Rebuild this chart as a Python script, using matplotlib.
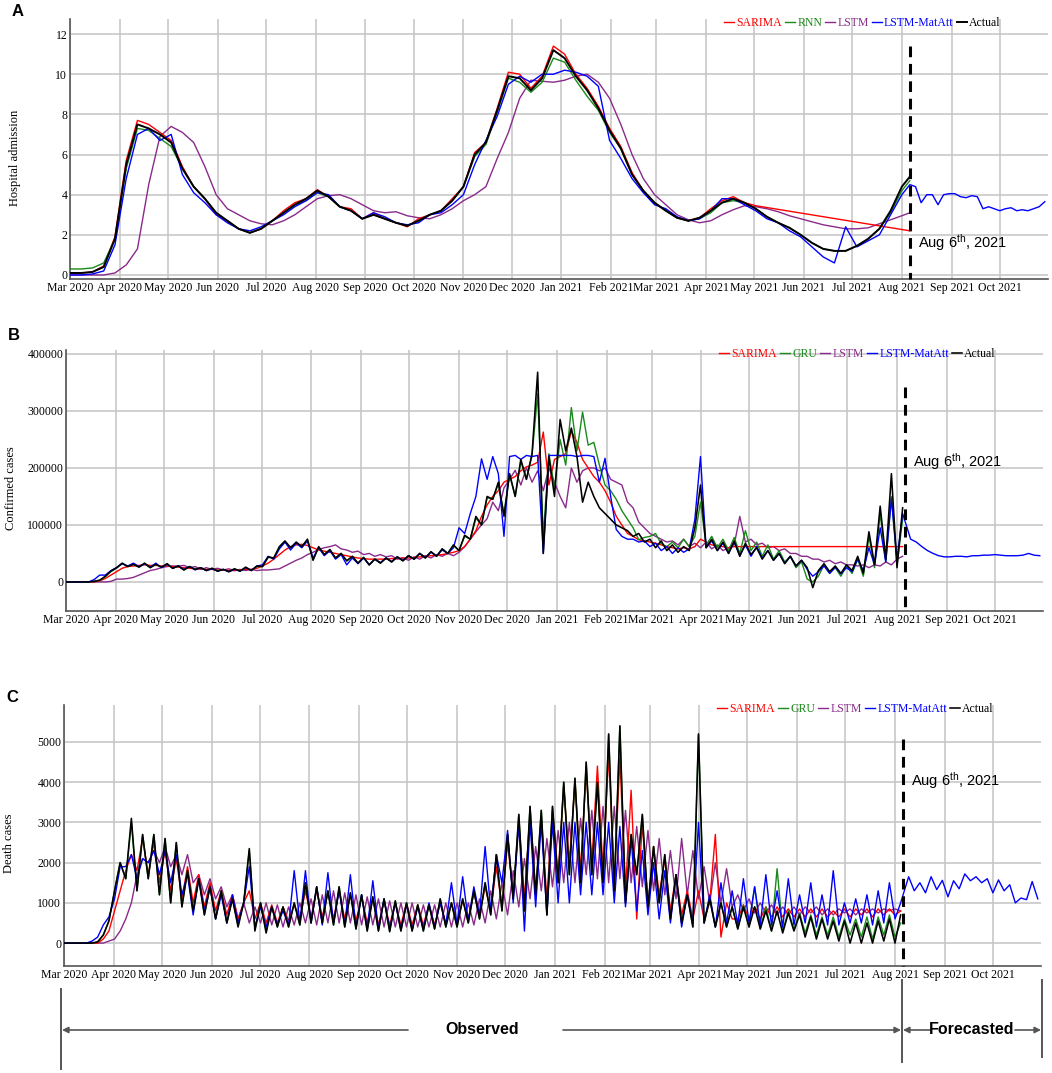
import numpy as np
import pandas as pd
import matplotlib
matplotlib.use('Agg')
import matplotlib.pyplot as plt
import matplotlib.dates as mdates
from matplotlib.lines import Line2D
from matplotlib.patches import FancyArrowPatch

W, H = 1052, 1073
plt.rcParams['font.family'] = ['Liberation Serif', 'DejaVu Serif']
plt.rcParams['mathtext.fontset'] = 'custom'
plt.rcParams['mathtext.rm'] = 'Liberation Sans'
plt.rcParams['mathtext.it'] = 'Liberation Sans:italic'
plt.rcParams['mathtext.bf'] = 'Liberation Sans:bold'

# ---------------- dates ----------------
A_dates = list(pd.date_range('2020-03-01', '2021-08-01', freq='7D')) + [pd.Timestamp('2021-08-06')]
HW_dates = list(pd.date_range('2020-03-01', periods=150, freq='84h'))
F_dates = list(pd.date_range('2021-08-06', periods=25, freq='84h')[1:])
CUT_DATE = pd.Timestamp('2021-08-06')

# ---------------- Panel A: hospital admission (weekly) ----------------
A_actual = [0.1, 0.1, 0.15, 0.4, 1.8, 5.5, 7.5, 7.3, 7.0, 6.6,
            5.3, 4.4, 3.8, 3.1, 2.7, 2.3, 2.1, 2.3, 2.7, 3.1,
            3.5, 3.8, 4.2, 3.9, 3.4, 3.2, 2.8, 3.0, 2.8, 2.6,
            2.45, 2.7, 3.0, 3.2, 3.7, 4.4, 6.0, 6.6, 8.2, 9.9,
            9.8, 9.2, 9.8, 11.2, 10.8, 9.9, 9.2, 8.3, 7.2, 6.3,
            5.0, 4.2, 3.6, 3.2, 2.85, 2.7, 2.85, 3.2, 3.6, 3.8,
            3.6, 3.3, 2.9, 2.6, 2.35, 2.0, 1.6, 1.3, 1.2, 1.2,
            1.45, 1.8, 2.3, 3.2, 4.4, 4.9]
A_sarima = [0.1, 0.1, 0.15, 0.45, 1.9, 5.7, 7.7, 7.5, 7.1, 6.7,
            5.4, 4.4, 3.8, 3.0, 2.7, 2.3, 2.1, 2.3, 2.7, 3.2,
            3.6, 3.8, 4.25, 3.9, 3.4, 3.3, 2.8, 3.1, 2.8, 2.6,
            2.4, 2.8, 3.0, 3.2, 3.8, 4.4, 6.1, 6.6, 8.3, 10.1,
            10.0, 9.3, 9.9, 11.4, 11.0, 10.0, 9.3, 8.4, 7.3, 6.4,
            5.1, 4.2, 3.6, 3.2, 2.85, 2.7, 2.85, 3.3, 3.7, 3.9,
            3.6, 3.45,
            2.2]
A_rnn = [0.3, 0.3, 0.35, 0.6, 1.8, 5.3, 7.3, 7.2, 6.8, 6.4,
         5.3, 4.4, 3.8, 3.1, 2.7, 2.3, 2.1, 2.3, 2.7, 3.1,
         3.5, 3.7, 4.1, 3.9, 3.4, 3.2, 2.8, 3.0, 2.8, 2.6,
         2.45, 2.7, 3.0, 3.2, 3.7, 4.4, 5.9, 6.5, 8.1, 9.8,
         9.6, 9.1, 9.6, 10.8, 10.6, 9.7, 8.9, 8.2, 7.1, 6.3,
         5.0, 4.2, 3.6, 3.2, 2.85, 2.7, 2.8, 3.1, 3.6, 3.7,
         3.6, 3.3, 2.9, 2.6, 2.35, 2.0, 1.6, 1.3, 1.2, 1.2,
         1.45, 1.8, 2.3, 3.1, 4.2, 4.7]
A_lstm = [0.0, 0.0, 0.0, 0.0, 0.1, 0.5, 1.3, 4.5, 6.9, 7.4,
          7.1, 6.6, 5.4, 4.0, 3.3, 3.0, 2.7, 2.55, 2.5, 2.7,
          3.0, 3.4, 3.8, 3.95, 4.0, 3.8, 3.5, 3.2, 3.1, 3.15,
          2.95, 2.85, 2.8, 3.0, 3.3, 3.7, 4.0, 4.4, 5.8, 7.1,
          8.8, 9.7, 9.65, 9.6, 9.7, 9.9, 10.0, 9.6, 8.8, 7.5,
          6.0, 4.8, 4.0, 3.5, 3.0, 2.75, 2.6, 2.7, 3.0, 3.25,
          3.45, 3.4, 3.3, 3.15, 2.95, 2.8, 2.65, 2.5, 2.4, 2.3,
          2.3, 2.35, 2.55, 2.75, 2.95, 3.1]
A_matatt = [0.0, 0.0, 0.05, 0.2, 1.5, 4.8, 7.0, 7.3, 6.7, 7.0,
            5.0, 4.1, 3.6, 3.0, 2.6, 2.3, 2.2, 2.4, 2.7, 3.0,
            3.4, 3.7, 4.1, 4.0, 3.4, 3.2, 2.8, 3.1, 2.9, 2.6,
            2.5, 2.6, 3.0, 3.1, 3.5, 4.0, 5.5, 6.7, 7.9, 9.5,
            9.9, 9.6, 10.0, 10.0, 10.2, 10.1, 9.9, 9.4, 6.7, 5.8,
            4.8, 4.1, 3.5, 3.3, 2.9, 2.7, 2.8, 3.2, 3.8, 3.8,
            3.5, 3.2, 2.8, 2.6, 2.2, 1.9, 1.4, 0.9, 0.6, 2.4,
            1.4, 1.7, 2.0, 3.0, 4.0, 4.5]
A_matatt_fc = [4.4, 3.6, 4.0, 4.0, 3.5, 4.0, 4.05, 4.05, 3.9, 3.85,
               3.95, 3.9, 3.3, 3.4, 3.3, 3.2, 3.3, 3.35, 3.2, 3.25,
               3.2, 3.3, 3.4, 3.65]

# ---------------- Panel B: confirmed cases (thousands, half-weekly) ----------------
B_actual_k = [0, 0, 0, 0, 0, 1, 3, 10, 19, 25,
              33, 27, 31, 26, 33, 25, 31, 26, 32, 24,
              28, 21, 27, 22, 25, 20, 24, 19, 22, 18,
              23, 19, 26, 20, 28, 27, 44, 42, 62, 72,
              60, 70, 62, 75, 38, 62, 48, 57, 42, 50,
              37, 45, 33, 43, 30, 40, 33, 42, 35, 44,
              37, 46, 40, 50, 42, 53, 45, 58, 50, 65,
              55, 82, 75, 115, 100, 150, 145, 175, 115, 190,
              150, 215, 180, 225, 368, 50, 220, 150, 285, 230,
              270, 220, 140, 175, 150, 130, 120, 110, 100, 95,
              90, 80, 85, 70, 75, 60, 72, 55, 65, 52,
              62, 55, 95, 170, 60, 75, 55, 70, 50, 72,
              45, 68, 48, 60, 40, 55, 38, 50, 32, 45,
              28, 38, 25, -10, 20, 32, 18, 28, 15, 30,
              20, 45, 15, 88, 30, 133, 40, 190, 25, 130]
B_sarima_k = [0, 0, 0, 0, 0, 0, 2, 6, 12, 18,
              24, 27, 28, 29, 30, 29, 29, 28, 28, 27,
              26, 25, 24, 23, 23, 22, 22, 21, 21, 20,
              20, 21, 22, 22, 24, 28, 33, 40, 48, 56,
              62, 65, 66, 64, 60, 56, 54, 52, 50, 48,
              46, 44, 42, 41, 40, 40, 40, 40, 41, 41,
              42, 42, 43, 44, 45, 46, 47, 48, 50, 52,
              55, 62, 75, 90, 115, 135, 150, 160, 175, 180,
              185, 195, 202, 205, 210, 263, 170, 215, 220, 225,
              265, 245, 215, 200, 185, 175, 160, 140, 115, 100,
              85, 80, 74, 72, 70, 68, 65, 62, 60, 58,
              60, 58, 62, 75, 70, 65, 63, 62, 60, 62,
              62, 62,
              62]
B_gru_k = [0, 0, 0, 0, 0, 1, 3, 9, 18, 24,
           32, 27, 31, 26, 32, 25, 31, 26, 31, 24,
           28, 21, 27, 22, 25, 20, 24, 19, 22, 18,
           23, 19, 25, 20, 27, 27, 43, 42, 60, 70,
           60, 68, 62, 73, 40, 60, 48, 56, 42, 50,
           37, 45, 33, 43, 30, 40, 33, 42, 35, 44,
           37, 46, 40, 50, 42, 53, 45, 58, 50, 64,
           55, 80, 75, 112, 100, 148, 145, 172, 120, 188,
           150, 212, 180, 222, 330, 80, 225, 165, 250, 205,
           306, 230, 298, 240, 245, 205, 170, 160, 145, 125,
           110, 95, 74, 78, 80, 85, 67, 62, 70, 60,
           75, 62, 80, 140, 65, 80, 60, 75, 55, 78,
           50, 90, 55, 70, 45, 65, 40, 55, 35, 45,
           25, 35, 5, 0, 10, 30, 15, 25, 10, 28,
           15, 40, 10, 80, 25, 120, 35, 150, 30, 110]
B_lstm_k = [0, 0, 0, 0, 0, 0, 0, 0, 1, 5,
            5, 6, 8, 12, 16, 20, 22, 25, 27, 28,
            28, 29, 25, 27, 22, 25, 22, 24, 21, 23,
            20, 22, 20, 22, 20, 21, 21, 22, 23, 28,
            33, 38, 42, 48, 52, 57, 60, 62, 65, 58,
            56, 52, 54, 48, 50, 45, 48, 44, 46, 40,
            42, 38, 44, 40, 46, 42, 48, 45, 50, 46,
            52, 62, 75, 88, 100, 111, 140, 125, 165, 180,
            196, 170, 200, 175, 195, 160, 200, 175, 150, 130,
            200, 175, 195, 200, 200, 195, 200, 180, 175, 170,
            140, 130, 105, 95, 85, 80, 75, 70, 72, 65,
            75, 62, 68, 60, 70, 58, 65, 55, 60, 65,
            115, 70, 75, 65, 68, 60, 62, 55, 58, 50,
            50, 45, 45, 40, 40, 35, 38, 32, 35, 30,
            30, 28, 30, 25, 30, 28, 35, 30, 40, 45]
B_matatt_k = [0, 0, 0, 0, 0, 4, 12, 12, 20, 25,
              32, 28, 33, 27, 32, 26, 33, 25, 31, 24,
              28, 22, 27, 21, 25, 20, 23, 19, 22, 18,
              22, 19, 25, 20, 28, 30, 45, 40, 58, 70,
              56, 68, 60, 72, 42, 60, 46, 55, 40, 48,
              30, 42, 32, 42, 30, 40, 34, 42, 36, 44,
              38, 46, 40, 50, 43, 52, 46, 56, 50, 60,
              95, 85, 120, 150, 216, 180, 220, 190, 80, 220,
              222, 215, 222, 220, 222, 50, 222, 222, 222, 222,
              222, 220, 222, 222, 220, 175, 217, 150, 92, 80,
              75, 75, 70, 72, 62, 68, 55, 62, 50, 60,
              52, 58, 110, 220, 60, 72, 55, 68, 50, 70,
              46, 65, 45, 62, 42, 55, 38, 50, 33, 45,
              28, 38, 22, 10, 18, 28, 15, 26, 14, 25,
              18, 40, 20, 60, 30, 95, 35, 146, 40, 120]
B_matatt_fc_k = [75, 70, 62, 55, 50, 46, 44, 44, 45, 45,
                 44, 46, 46, 47, 47, 48, 47, 46, 46, 46,
                 47, 50, 47, 46]

# ---------------- Panel C: death cases (half-weekly) ----------------
C_actual = [0, 0, 0, 0, 0, 0, 30, 200, 550, 1300,
            2000, 1600, 3100, 1300, 2700, 1600, 2700, 1200, 2600, 1000,
            2500, 900, 1800, 800, 1600, 700, 1400, 600, 1300, 500,
            1100, 400, 1000, 2350, 300, 1000, 250, 900, 400, 900,
            400, 1000, 450, 1500, 500, 1400, 500, 1300, 450, 1400,
            400, 1250, 350, 1200, 300, 1150, 300, 1100, 280, 1050,
            300, 1000, 300, 950, 300, 950, 350, 1100, 400, 1000,
            400, 1100, 500, 1300, 600, 1500, 700, 2200, 800, 2700,
            1100, 3200, 800, 3400, 1200, 3300, 700, 3400, 1500, 4000,
            1700, 4100, 1500, 4500, 1700, 4000, 1500, 5200, 1300, 5400,
            1000, 2700, 1700, 3200, 900, 2400, 1000, 2200, 600, 1700,
            500, 1200, 400, 5200, 500, 1100, 400, 1000, 400, 900,
            350, 900, 400, 900, 350, 800, 300, 800, 250, 750,
            300, 700, 150, 650, 100, 600, 100, 550, 50, 550,
            0, 500, 0, 500, 0, 550, 50, 600, 0, 700]
C_sarima = [0, 0, 0, 0, 0, 0, 0, 100, 300, 800,
            1300, 1800, 2200, 1800, 2600, 1700, 2500, 1500, 2300, 1300,
            2100, 1100, 1900, 1000, 1700, 900, 1500, 800, 1300, 700,
            1200, 600, 1000, 1300, 600, 1000, 500, 950, 500, 900,
            550, 950, 600, 1300, 650, 1300, 650, 1250, 600, 1300,
            600, 1200, 550, 1150, 500, 1100, 450, 1050, 450, 1000,
            450, 1000, 450, 950, 450, 950, 450, 1000, 500, 1000,
            500, 1050, 600, 1250, 700, 1400, 800, 1900, 900, 2500,
            1200, 3000, 1100, 3200, 1300, 3100, 1100, 3300, 1700, 3900,
            2000, 4000, 1800, 4300, 2000, 4400, 1800, 4700, 1500, 4600,
            1300, 3800, 600, 3000, 900, 2400, 1200, 2100, 800, 1700,
            700, 1300, 600, 1300, 600, 1000, 2700, 150, 1000, 600,
            600, 950, 600, 900, 600, 900, 650, 900, 650, 850,
            650, 850, 650, 850, 650, 850, 650, 800, 650, 850,
            650, 850, 700, 850, 650, 850, 700, 850, 700, 800]
C_gru = [0, 0, 0, 0, 0, 0, 30, 200, 550, 1300,
         2000, 1600, 3000, 1300, 2700, 1600, 2700, 1200, 2600, 1000,
         2500, 900, 1800, 800, 1600, 700, 1400, 600, 1300, 500,
         1100, 450, 1000, 2300, 350, 1000, 300, 900, 400, 900,
         400, 1000, 450, 1500, 500, 1400, 500, 1300, 450, 1400,
         400, 1250, 350, 1200, 300, 1150, 300, 1100, 300, 1050,
         300, 1000, 300, 950, 300, 950, 350, 1100, 400, 1000,
         400, 1100, 500, 1300, 600, 1500, 700, 2200, 800, 2700,
         1100, 3200, 800, 3400, 1200, 3300, 700, 3400, 1500, 4000,
         1700, 4100, 1500, 4500, 1700, 4000, 1500, 5200, 1300, 5400,
         1000, 2700, 1700, 3200, 900, 2400, 1000, 2200, 600, 1700,
         500, 1200, 400, 5200, 500, 1100, 400, 1000, 400, 900,
         350, 950, 400, 1400, 350, 900, 300, 1850, 300, 800,
         350, 750, 250, 700, 200, 650, 200, 650, 150, 600,
         200, 600, 150, 650, 100, 650, 200, 700, 150, 500]
C_lstm = [0, 0, 0, 0, 0, 0, 0, 0, 50, 100,
          300, 600, 1000, 1700, 2100, 2000, 2300, 2000, 2400, 1900,
          2200, 1700, 2200, 1500, 1700, 1200, 1600, 1100, 1400, 900,
          1200, 600, 1000, 500, 900, 500, 1000, 450, 950, 400,
          900, 450, 1000, 500, 1100, 450, 1200, 500, 1300, 500,
          1250, 500, 1200, 450, 1150, 450, 1100, 400, 1050, 400,
          1000, 400, 1000, 400, 950, 400, 950, 400, 1000, 400,
          1000, 400, 1000, 450, 1100, 500, 1300, 600, 1500, 700,
          1800, 900, 2100, 1100, 2400, 1300, 2600, 1400, 2800, 1500,
          3000, 1500, 3100, 1700, 3300, 1600, 3400, 1500, 3400, 1600,
          3300, 1500, 2900, 1400, 2800, 1300, 2600, 1200, 2300, 1100,
          2600, 1200, 2300, 1100, 1900, 1000, 2000, 1000, 1850, 900,
          1200, 800, 1100, 750, 1000, 750, 950, 700, 900, 700,
          900, 700, 900, 750, 900, 700, 850, 700, 850, 750,
          850, 700, 850, 750, 850, 750, 850, 800, 850, 800]
C_matatt = [0, 0, 0, 0, 0, 50, 150, 450, 650, 1100,
            1900, 1900, 2200, 1600, 2100, 2000, 2300, 1700, 2300, 1500,
            2200, 1200, 1700, 700, 1600, 800, 1400, 600, 1200, 500,
            1200, 500, 1000, 1900, 400, 900, 400, 900, 450, 800,
            450, 1800, 500, 1800, 500, 1400, 450, 1750, 500, 1300,
            450, 1700, 400, 1200, 350, 1550, 350, 1100, 350, 1000,
            350, 950, 350, 900, 350, 1000, 400, 1000, 450, 1500,
            450, 1650, 550, 1400, 700, 2400, 800, 2200, 1500, 2800,
            1000, 3000, 300, 3000, 900, 3000, 700, 3000, 1000, 3000,
            1000, 3000, 1200, 3000, 1200, 3000, 1200, 3000, 1000, 2900,
            900, 2600, 800, 2300, 700, 2000, 600, 1800, 500, 1700,
            400, 1200, 500, 3000, 500, 1200, 400, 1500, 500, 1300,
            450, 1600, 500, 1400, 450, 1700, 450, 1300, 400, 1600,
            450, 1200, 500, 1500, 400, 1200, 450, 1800, 450, 1000,
            500, 1100, 500, 1200, 450, 1300, 500, 1500, 600, 1000]
C_matatt_fc = [1650, 1300, 1500, 1250, 1650, 1330, 1560, 1150, 1550, 1350,
               1720, 1550, 1650, 1500, 1600, 1250, 1570, 1300, 1450, 1000,
               1120, 1080, 1530, 1100]

COLORS = {'SARIMA': '#ff0000', 'RNN': '#1a8a1a', 'GRU': '#1a8a1a',
          'LSTM': '#8a2a8a', 'LSTM-MatAtt': '#0000ff', 'Actual': '#000000'}

fig = plt.figure(figsize=(W / 100, H / 100), dpi=100)


def axes_px(left, right, top, bottom):
    return fig.add_axes([left / W, 1 - bottom / H, (right - left) / W, (bottom - top) / H])


def fp(x, y):
    return (x / W, 1 - y / H)


def style_axes(ax, ylim, yticks, ylabel, ylabel_x, ylabel_y):
    ax.set_xlim(pd.Timestamp('2020-03-01'), pd.Timestamp('2021-10-31'))
    ax.set_ylim(*ylim)
    ax.set_yticks(yticks)
    ax.yaxis.set_major_formatter(matplotlib.ticker.FuncFormatter(lambda v, p: '%d' % v))
    ax.xaxis.set_major_locator(mdates.MonthLocator())
    ax.xaxis.set_major_formatter(mdates.DateFormatter('%b %Y'))
    ax.grid(True, color='#c4c4c4', lw=1.1)
    ax.set_axisbelow(True)
    for s in ('top', 'right'):
        ax.spines[s].set_visible(False)
    for s in ('left', 'bottom'):
        ax.spines[s].set_color('#555555')
        ax.spines[s].set_linewidth(1.2)
    ax.tick_params(length=0, labelsize=8.5, pad=2)
    fig.text(ylabel_x / W, 1 - ylabel_y / H, ylabel, rotation=90, ha='center', va='center',
             fontsize=9)


def draw_panel(ax, dates_obs, series, sarima_dates, matatt_full, fc_dates, names, actual_lw):
    lines = []
    order = ['SARIMA', names[1], 'LSTM', 'LSTM-MatAtt', 'Actual']
    z = {'SARIMA': 3, names[1]: 3, 'LSTM': 2, 'LSTM-MatAtt': 4, 'Actual': 5}
    for name in order:
        if name == 'SARIMA':
            x, y = sarima_dates, series['SARIMA']
        elif name == 'LSTM-MatAtt':
            x, y = list(dates_obs) + list(fc_dates), matatt_full
        else:
            x, y = dates_obs, series[name]
        lw = actual_lw if name == 'Actual' else 1.0
        ln, = ax.plot(x, y, color=COLORS[name], lw=lw, zorder=z[name], label=name)
        lines.append(ln)
    ax.legend(handles=lines, loc='center', bbox_to_anchor=(0.81, 0.985), ncol=5, frameon=False,
              fontsize=8.5, handlelength=0.85, handletextpad=0.2, columnspacing=0.25,
              labelcolor='linecolor', borderpad=0, borderaxespad=0)


def cut_line(ax, y_top, y_bottom, ann_y, ann_x_days=5):
    ax.plot([CUT_DATE, CUT_DATE], [y_top, y_bottom], color='black', lw=2.2,
            dashes=(3.5, 2.2), zorder=6, clip_on=False)
    ax.text(CUT_DATE + pd.Timedelta(days=ann_x_days), ann_y, r'Aug 6$^{\mathrm{th}}$, 2021',
            fontsize=10.5, family='Liberation Sans', va='center', ha='left', zorder=7)


# ---------- Panel A ----------
axA = axes_px(70, 1048, 19, 279)
style_axes(axA, (-0.2, 12.75), [0, 2, 4, 6, 8, 10, 12], 'Hospital admission', 15, 158)
draw_panel(axA, A_dates,
           {'SARIMA': A_sarima, 'RNN': A_rnn, 'LSTM': A_lstm, 'Actual': A_actual},
           A_dates[:62] + [A_dates[-1]],
           A_matatt + A_matatt_fc, F_dates, ['', 'RNN'], 1.4)
cut_line(axA, 11.4, -0.2, 1.6)

# ---------- Panel B ----------
axB = axes_px(66, 1043, 350, 611)
style_axes(axB, (-51000, 407000), [0, 100000, 200000, 300000, 400000], 'Confirmed cases', 11, 488)
k = 1000
draw_panel(axB, HW_dates,
           {'SARIMA': [v * k for v in B_sarima_k], 'GRU': [v * k for v in B_gru_k],
            'LSTM': [v * k for v in B_lstm_k], 'Actual': [v * k for v in B_actual_k]},
           HW_dates[:122] + [HW_dates[-1]],
           [v * k for v in B_matatt_k + B_matatt_fc_k], F_dates, ['', 'GRU'], 1.15)
cut_line(axB, 342000, -55000, 212000)

# ---------- Panel C ----------
axC = axes_px(64, 1041, 705, 966)
style_axes(axC, (-570, 5920), [0, 1000, 2000, 3000, 4000, 5000], 'Death cases', 9, 843)
draw_panel(axC, HW_dates,
           {'SARIMA': C_sarima, 'GRU': C_gru, 'LSTM': C_lstm, 'Actual': C_actual},
           HW_dates,
           C_matatt + C_matatt_fc, F_dates, ['', 'GRU'], 1.15)
cut_line(axC, 5070, -570, 4030)

# ---------- panel letters ----------
for lab, (x, y) in zip(['A', 'B', 'C'], [(18, 12), (14, 335), (12, 697)]):
    fig.text(*fp(x, y), lab, fontsize=12, fontweight='bold', family='Liberation Sans',
             ha='center', va='center')

# ---------- observed / forecasted annotation ----------
gcol = '#555555'
for x, y0, y1 in [(61, 989, 1069), (902, 980, 1062), (1042, 980, 1057)]:
    fig.add_artist(Line2D([x / W, x / W], [1 - y0 / H, 1 - y1 / H], color=gcol, lw=1.4))
for xa, xb in [(408, 62), (563, 901), (930, 903), (1015, 1041)]:
    fig.add_artist(FancyArrowPatch(fp(xa, 1030), fp(xb, 1030), transform=fig.transFigure,
                                   arrowstyle='-|>', mutation_scale=9, color=gcol, lw=1.2,
                                   shrinkA=0, shrinkB=0))
fig.text(*fp(482, 1030), 'Observed', fontsize=11.5, fontweight='bold', family='Liberation Sans',
         ha='center', va='center')
fig.text(*fp(972, 1030), 'Forecasted', fontsize=11.5, fontweight='bold', family='Liberation Sans',
         ha='center', va='center')

fig.savefig('out.png', dpi=100)
